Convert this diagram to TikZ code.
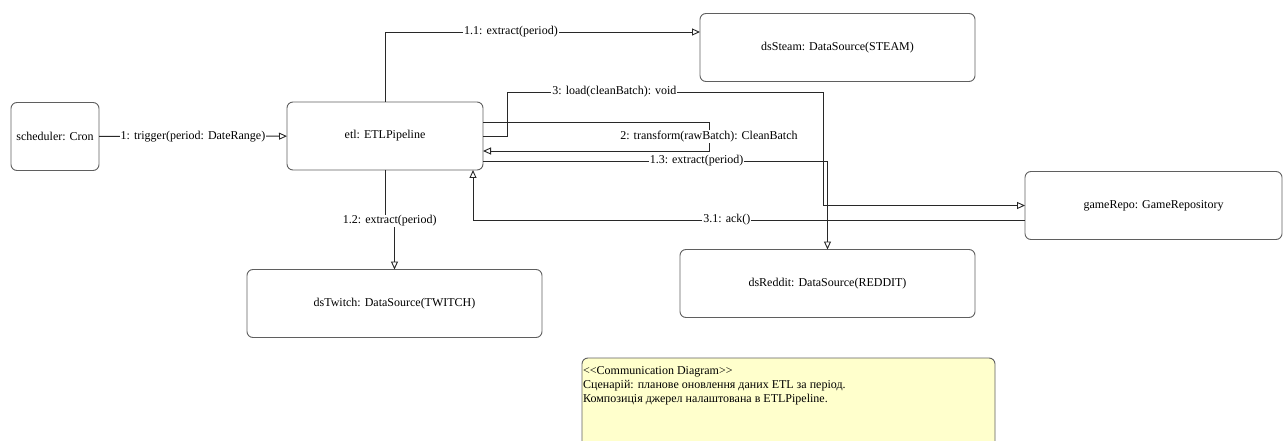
\documentclass[tikz,border=0pt]{standalone}
\usepackage{fontspec}
\setmainfont{Liberation Serif}
\usepackage{tikz}
\usetikzlibrary{arrows.meta, positioning}
\definecolor{notefill}{RGB}{255,255,204}
\definecolor{boxline}{RGB}{95,95,95}
\definecolor{msgline}{RGB}{40,40,40}

\tikzset{
  obj/.style={draw=boxline, line width=0.9pt, rounded corners=6pt, inner sep=0pt,
    outer sep=0pt, minimum height=68pt, align=center},
  msg/.style={draw=msgline, line width=0.9pt, -{Triangle[open,length=8pt,width=7pt]}},
  lbl/.style={fill=white, inner sep=1pt},
  notebox/.style={draw=boxline, fill=notefill, line width=0.9pt, rounded corners=6pt,
    inner sep=0pt, outer sep=0pt},
}

\begin{document}
\begin{tikzpicture}[x=1pt, y=-1pt, font=\fontsize{12}{14}\selectfont]
\useasboundingbox (0,0) rectangle (1283,441);
% we draw the objects
\node[obj, minimum width=88pt] (scheduler) at (55,136.5) {scheduler: Cron};
\node[obj, minimum width=196pt] (etl) at (385,136) {etl: ETLPipeline};
\node[obj, minimum width=275pt] (dsSteam) at (837.5,47.5) {dsSteam: DataSource(STEAM)};
\node[obj, minimum width=295pt] (dsTwitch) at (394.5,303.5) {dsTwitch: DataSource(TWITCH)};
\node[obj, minimum width=295pt] (dsReddit) at (827.5,283.5) {dsReddit: DataSource(REDDIT)};
\node[obj, minimum width=257pt] (gameRepo) at (1153.5,205.5) {gameRepo: GameRepository};
% the note in the lower part
\node[notebox, anchor=north west, minimum width=413pt, minimum height=90pt] (note) at (582,358) {};
\node[anchor=north west, align=left, inner sep=0pt] (noteText) at ([xshift=1pt, yshift=-8pt]note.north west)
  {\textless\kern0pt\textless Communication Diagram\textgreater\kern0pt\textgreater\\
   Сценарій: планове оновлення даних ETL за період.\\
   Композиція джерел налаштована в ETLPipeline.};
% we draw the messages and place the labels
\draw[msg] (scheduler) -- node[lbl] {1: trigger(period: DateRange)} (etl);
\draw[msg] (etl.north) |- node[lbl, pos=0.7] {1.1: extract(period)} ([yshift=15.5pt]dsSteam.west);
\draw[msg] (etl.south) -- ++(0,51) -| node[lbl, pos=0.25] {1.2: extract(period)} (dsTwitch.north);
\draw[msg] ([yshift=-25pt]etl.east) -| node[lbl, pos=0.31] {1.3: extract(period)} (dsReddit.north);
\draw[msg] ([yshift=14pt]etl.east) -- ++(226,0) |- node[lbl, pos=0.25] {2: transform(rawBatch): CleanBatch}
  ([yshift=-15pt]etl.east);
\draw[msg] (etl.east) -- ++(24,0) -- ++(0,-44) -- node[lbl, pos=0.34] {3: load(cleanBatch): void} ++(316,0)
  |- (gameRepo.west);
\draw[msg] ([yshift=-14.5pt]gameRepo.west) -| node[lbl, pos=0.27] {3.1: ack()} ([xshift=-10pt]etl.south east);
%
\end{tikzpicture}
\end{document}
